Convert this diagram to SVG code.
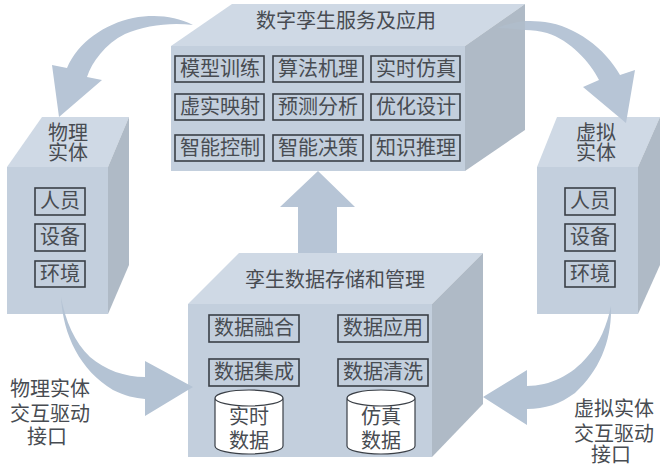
<svg xmlns="http://www.w3.org/2000/svg" width="660" height="468" viewBox="0 0 660 468">
<style>
.top{fill:#cfd9e5}.front{fill:#c3cfdd}.side{fill:#afbac6}
.arrow{fill:#b7c5d6}
.arrow2{fill:#b4c3d4}
.lb{fill:none;stroke:#3a3f46;stroke-width:1.6}
text{font-family:"Noto Sans CJK SC","Noto Sans",sans-serif;font-weight:400;font-size:20px;fill:#484c52;text-anchor:middle}
.cyl{fill:#fff;stroke:#3a3f46;stroke-width:1.2}
</style>
<rect width="660" height="468" fill="#fff"/>
<g id="box-services">
<path class="top" d="M171 46L232 4H525L465 46Z"/><rect class="front" x="171" y="46" width="294" height="125"/><path class="side" d="M465 46L525 4V130L465 171Z"/>
<text x="346" y="28">数字孪生服务及应用</text>
<rect class="lb" x="175" y="56" width="89" height="26"/><text x="220" y="76">模型训练</text>
<rect class="lb" x="273" y="56" width="90" height="26"/><text x="318" y="76">算法机理</text>
<rect class="lb" x="371" y="56" width="89" height="26"/><text x="416" y="76">实时仿真</text>
<rect class="lb" x="175" y="94" width="89" height="26"/><text x="220" y="114">虚实映射</text>
<rect class="lb" x="273" y="94" width="90" height="26"/><text x="318" y="114">预测分析</text>
<rect class="lb" x="371" y="94" width="89" height="26"/><text x="416" y="114">优化设计</text>
<rect class="lb" x="175" y="135" width="89" height="26"/><text x="220" y="155">智能控制</text>
<rect class="lb" x="273" y="135" width="90" height="26"/><text x="318" y="155">智能决策</text>
<rect class="lb" x="371" y="135" width="89" height="26"/><text x="416" y="155">知识推理</text>
</g>
<g id="box-physical">
<path class="top" d="M7 167L42 117H129L108 167Z"/><rect class="front" x="7" y="167" width="101" height="147"/><path class="side" d="M108 167L129 117V265L108 314Z"/>
<text x="68" y="140">物理<tspan x="68" dy="20">实体</tspan></text>
<rect class="lb" x="35" y="188" width="50" height="27"/><text x="60" y="208">人员</text>
<rect class="lb" x="35" y="224" width="50" height="27"/><text x="60" y="244">设备</text>
<rect class="lb" x="35" y="261" width="50" height="26"/><text x="60" y="281">环境</text>
</g>
<g id="box-virtual">
<path class="top" d="M537 167L557 117H660L638 167Z"/><rect class="front" x="537" y="167" width="101" height="147"/><path class="side" d="M638 167L660 117V265L638 314Z"/>
<text x="596" y="140">虚拟<tspan x="596" dy="20">实体</tspan></text>
<rect class="lb" x="565" y="188" width="50" height="27"/><text x="590" y="208">人员</text>
<rect class="lb" x="565" y="224" width="50" height="27"/><text x="590" y="244">设备</text>
<rect class="lb" x="565" y="261" width="50" height="26"/><text x="590" y="281">环境</text>
</g>
<g id="box-data">
<path class="top" d="M188 304L239 253H483L432 304Z"/><rect class="front" x="188" y="304" width="244" height="153"/><path class="side" d="M432 304L483 253V404L432 457Z"/>
<text x="335" y="287">孪生数据存储和管理</text>
<rect class="lb" x="209" y="315" width="90" height="27"/><text x="254" y="335">数据融合</text>
<rect class="lb" x="338" y="315" width="90" height="27"/><text x="383" y="335">数据应用</text>
<rect class="lb" x="209" y="359" width="90" height="27"/><text x="254" y="379">数据集成</text>
<rect class="lb" x="338" y="359" width="90" height="27"/><text x="383" y="379">数据清洗</text>
</g>
<g id="cyl-realtime">
<path class="cyl" d="M215 398V446A34 8 0 0 0 283 446V398A34 8 0 0 0 215 398A34 8 0 0 0 283 398"/>
<text x="249" y="424">实时<tspan x="249" dy="24">数据</tspan></text>
</g>
<g id="cyl-sim">
<path class="cyl" d="M347 398V446A34 8 0 0 0 415 446V398A34 8 0 0 0 347 398A34 8 0 0 0 415 398"/>
<text x="381" y="424">仿真<tspan x="381" dy="24">数据</tspan></text>
</g>
<g id="connectors">
<path class="arrow" d="M318 171L355 207H337V253H298V207H280Z"/>
<path class="arrow" d="M193 25C175 16 155 14 133 18C105 24 78 42 67 68L52 65L59 117L102 80L87 77C92 62 105 44 125 34C145 25 172 22 193 25Z"/>
<path fill="#b0bdcb" d="M497 28C507 24 516 22 525 21V30C516 29 506 28 497 28Z"/>
<path class="arrow" d="M525 21C532 21 538 21 545 22C575 26 605 48 620 75L635 70L626 123L583 87L599 80C590 62 570 40 547 33C540 31 532 30 525 30Z"/>
<path class="arrow2" d="M61 297C63 335 80 370 113 390C125 396 135 398 145 399V416L193 387L145 361V377C125 377 105 370 90 357C75 343 65 320 61 297Z"/>
<path class="arrow2" d="M611 306C612 340 600 370 575 393C560 404 545 409 527 409V425L483 397L527 370V386C550 386 572 375 587 357C600 343 607 325 611 306Z"/>
</g>
<text x="50" y="396">物理实体<tspan x="50" dy="25">交互驱动</tspan><tspan x="47" dy="23">接口</tspan></text>
<text x="614" y="416">虚拟实体<tspan x="614" dy="25">交互驱动</tspan><tspan x="611" dy="21">接口</tspan></text>
</svg>
